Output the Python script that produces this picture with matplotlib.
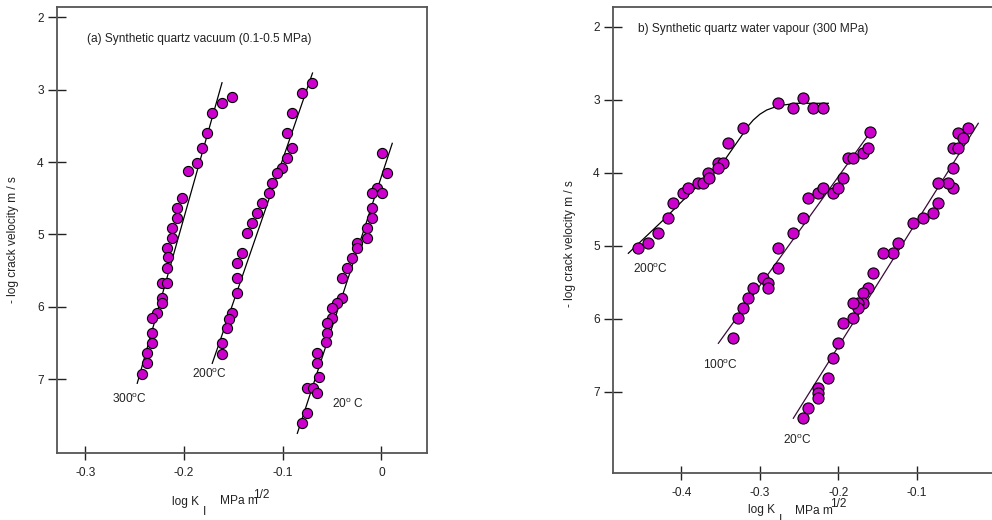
import matplotlib
matplotlib.use("Agg")
import matplotlib.pyplot as plt

plt.rcParams['font.family'] = ['Liberation Sans', 'DejaVu Sans']
plt.rcParams['mathtext.fontset'] = 'custom'
plt.rcParams['mathtext.rm'] = 'Liberation Sans'
plt.rcParams['mathtext.it'] = 'Liberation Sans'

# ---------------- data: panel (a) vacuum ----------------
a300_x = [-0.1511, -0.1612, -0.1714, -0.1764, -0.1815, -0.1866, -0.1957, -0.2021, -0.2071,
          -0.2068, -0.2122, -0.2122, -0.2170, -0.2160, -0.2170, -0.2226, -0.2176, -0.2223,
          -0.2223, -0.2274, -0.2328, -0.2325, -0.2325, -0.2372, -0.2372, -0.2426]
a300_y = [3.104, 3.179, 3.317, 3.594, 3.805, 4.013, 4.123, 4.492, 4.635,
          4.769, 4.907, 5.050, 5.188, 5.308, 5.465, 5.672, 5.672, 5.884,
          5.945, 6.091, 6.160, 6.368, 6.506, 6.644, 6.783, 6.926]
a300_fit_x = [-0.2474, -0.1615]
a300_fit_y = [7.059, 2.902]

a200_x = [-0.0700, -0.0802, -0.0903, -0.0954, -0.0903, -0.0954, -0.1004, -0.1055, -0.1106,
          -0.1139, -0.1207, -0.1258, -0.1311, -0.1359, -0.1410, -0.1460, -0.1460, -0.1460,
          -0.1511, -0.1547, -0.1562, -0.1612, -0.1612]
a200_y = [2.902, 3.040, 3.317, 3.594, 3.805, 3.943, 4.082, 4.155, 4.293,
          4.423, 4.570, 4.708, 4.846, 4.985, 5.257, 5.400, 5.607, 5.815,
          6.091, 6.174, 6.299, 6.506, 6.650]
a200_fit_x = [-0.1714, -0.0698]
a200_fit_y = [6.783, 2.768]

a20_x = [0.0009, 0.0060, -0.0042, -0.0092, 0.0009, -0.0092, -0.0092, -0.0143, -0.0143,
         -0.0244, -0.0244, -0.0298, -0.0346, -0.0396, -0.0396, -0.0447, -0.0498, -0.0498,
         -0.0548, -0.0548, -0.0558, -0.0650, -0.0650, -0.0635, -0.0751, -0.0696, -0.0650,
         -0.0751, -0.0802]
a20_y = [3.870, 4.147, 4.354, 4.423, 4.423, 4.635, 4.773, 4.911, 5.050,
         5.115, 5.188, 5.326, 5.465, 5.607, 5.884, 5.953, 6.022, 6.160,
         6.229, 6.368, 6.488, 6.644, 6.783, 6.972, 7.128, 7.128, 7.198,
         7.474, 7.612]
a20_fit_x = [-0.0852, 0.0110]
a20_fit_y = [7.751, 3.740]

a_xticks = [-0.3, -0.2, -0.1, 0.0]
a_xticklabels = ['-0.3', '-0.2', '-0.1', '0']

# ---------------- data: panel (b) water vapour ----------------
b200_x = [-0.4552, -0.4425, -0.4298, -0.4170, -0.4106, -0.3979, -0.3915, -0.3788, -0.3721,
          -0.3661, -0.3652, -0.3533, -0.3466, -0.3529, -0.3406, -0.3215, -0.2765, -0.2578,
          -0.2447, -0.2319, -0.2192]
b200_y = [5.037, 4.968, 4.831, 4.617, 4.416, 4.283, 4.211, 4.142, 4.142,
          4.005, 4.069, 3.864, 3.864, 3.932, 3.594, 3.389, 3.046, 3.115,
          2.974, 3.115, 3.115]
b200_fit_x = [-0.4676, -0.4230, -0.3848, -0.3508, -0.3211, -0.3150, -0.3084, -0.3000,
              -0.2913, -0.2800, -0.2702, -0.2531, -0.2128]
b200_fit_y = [5.105, 4.649, 4.238, 3.919, 3.461, 3.362, 3.279, 3.200,
              3.142, 3.098, 3.074, 3.050, 3.050]

b100_x = [-0.3338, -0.3275, -0.3211, -0.3147, -0.3084, -0.2956, -0.2893, -0.2893, -0.2765,
          -0.2765, -0.2574, -0.2447, -0.2383, -0.2256, -0.2192, -0.2065, -0.2001, -0.1937,
          -0.1874, -0.1810, -0.1683, -0.1619, -0.1597]
b100_y = [6.269, 5.995, 5.858, 5.722, 5.584, 5.448, 5.516, 5.584, 5.311,
          5.037, 4.831, 4.626, 4.352, 4.283, 4.215, 4.283, 4.215, 4.078,
          3.804, 3.804, 3.735, 3.667, 3.439]
b100_fit_x = [-0.3529, -0.1619]
b100_fit_y = [6.338, 3.485]

b20_x = [-0.0345, -0.0473, -0.0409, -0.0536, -0.0473, -0.0536, -0.0536, -0.0600, -0.0727,
         -0.0727, -0.0791, -0.0918, -0.1046, -0.1237, -0.1300, -0.1428, -0.1555, -0.1619,
         -0.1683, -0.1683, -0.1746, -0.1746, -0.1810, -0.1810, -0.1937, -0.2001, -0.2065,
         -0.2128, -0.2256, -0.2256, -0.2256, -0.2383, -0.2447]
b20_y = [3.393, 3.461, 3.530, 3.667, 3.667, 3.941, 4.215, 4.146, 4.146,
         4.420, 4.557, 4.626, 4.694, 4.968, 5.105, 5.105, 5.379, 5.584,
         5.653, 5.790, 5.790, 5.858, 5.790, 5.995, 6.064, 6.338, 6.543,
         6.817, 6.954, 7.023, 7.091, 7.228, 7.365]
b20_fit_x = [-0.2574, -0.0218]
b20_fit_y = [7.365, 3.324]

b_xticks = [-0.4, -0.3, -0.2, -0.1, 0.0]
b_xticklabels = ['-0.4', '-0.3', '-0.2', '-0.1', '0']

yticks = [2, 3, 4, 5, 6, 7]
yticklabels = ['2', '3', '4', '5', '6', '7']

# ---------------- style ----------------
W, H = 992, 520
MC = '#cc00cc'
TXT = '#222222'
SPINE = '#555555'
FS = 8.6

fig = plt.figure(figsize=(W / 100, H / 100), dpi=100)


def px_rect(l, t, r, b):
    return [l / W, 1 - b / H, (r - l) / W, (b - t) / H]


def style_axes(ax):
    for s in ax.spines.values():
        s.set_color(SPINE)
        s.set_linewidth(1.3)
    ax.tick_params(axis='y', direction='inout', length=13.5, width=1.0, color='#222222',
                   labelsize=FS, labelcolor=TXT, pad=2.5)
    ax.tick_params(axis='x', direction='inout', length=10.5, width=1.0, color='#222222',
                   labelsize=FS, labelcolor=TXT, pad=4.5)
    ax.set_yticks(yticks)
    ax.set_yticklabels(yticklabels)


def pts(ax, x, y, ms):
    ax.plot(x, y, 'o', ms=ms, mfc=MC, mec='black', mew=0.8, ls='none', zorder=3)


# ---------------- panel (a) ----------------
axa = fig.add_axes(px_rect(56.7, 7.3, 427.3, 453.3))
style_axes(axa)
axa.set_xlim(-0.329, 0.0465)
axa.set_ylim(8.027, 1.859)
axa.set_xticks(a_xticks)
axa.set_xticklabels(a_xticklabels)

for fx, fy in [(a300_fit_x, a300_fit_y), (a200_fit_x, a200_fit_y), (a20_fit_x, a20_fit_y)]:
    axa.plot(fx, fy, color='black', lw=0.9, zorder=2)
pts(axa, a300_x, a300_y, 7.3)
pts(axa, a200_x, a200_y, 7.3)
pts(axa, a20_x, a20_y, 7.3)

axa.text(-0.2983, 2.302, '(a) Synthetic quartz vacuum (0.1-0.5 MPa)', fontsize=FS,
         color=TXT, ha='left', va='center')
axa.text(-0.273, 7.276, '300$^{\\mathrm{o}}$C', fontsize=FS, color=TXT, ha='left', va='center')
axa.text(-0.192, 6.93, '200$^{\\mathrm{o}}$C', fontsize=FS, color=TXT, ha='left', va='center')
axa.text(-0.050, 7.345, '20$^{\\mathrm{o}}$ C', fontsize=FS, color=TXT, ha='left', va='center')

# ---------------- panel (b) ----------------
axb = fig.add_axes(px_rect(612.7, 7.3, 1004.8, 473.3))
style_axes(axb)
axb.set_xlim(-0.4875, 0.012)
axb.set_ylim(8.119, 1.735)
axb.set_xticks(b_xticks)
axb.set_xticklabels(b_xticklabels)

axb.plot(b200_fit_x, b200_fit_y, color='black', lw=0.9, zorder=2)
axb.plot(b100_fit_x, b100_fit_y, color='#3a0a3a', lw=0.9, zorder=2)
axb.plot(b20_fit_x, b20_fit_y, color='#3a0a3a', lw=0.9, zorder=2)
pts(axb, b200_x, b200_y, 8.0)
pts(axb, b100_x, b100_y, 8.0)
pts(axb, b20_x, b20_y, 8.0)

axb.text(-0.4556, 2.032, 'b) Synthetic quartz water vapour (300 MPa)', fontsize=FS,
         color=TXT, ha='left', va='center')
axb.text(-0.4617, 5.315, '200$^{\\mathrm{o}}$C', fontsize=FS, color=TXT, ha='left', va='center')
axb.text(-0.3724, 6.635, '100$^{\\mathrm{o}}$C', fontsize=FS, color=TXT, ha='left', va='center')
axb.text(-0.2705, 7.663, '20$^{\\mathrm{o}}$C', fontsize=FS, color=TXT, ha='left', va='center')


# ---------------- axis labels (figure pixel positions) ----------------
def ftext(x, y, s, **kw):
    fig.text(x / W, 1 - y / H, s, fontsize=kw.pop('fontsize', FS), color=TXT, **kw)


ylab = '- log crack velocity m / s'
ftext(13.5, 240, ylab, rotation=90, ha='center', va='center')
ftext(570, 244, ylab, rotation=90, ha='center', va='center')

# x label panel (a)
ftext(171.7, 501.5, 'log K', ha='left', va='center')
ftext(202.5, 512, 'I', ha='left', va='center')
ftext(220, 501.5, 'MPa m', ha='left', va='center')
ftext(253, 495.5, '1/2', ha='left', va='center')

# x label panel (b)
ftext(748.3, 510.5, 'log K', ha='left', va='center')
ftext(779, 520, 'I', ha='left', va='center')
ftext(795, 510.5, 'MPa m', ha='left', va='center')
ftext(830, 504, '1/2', ha='left', va='center')

fig.savefig('out.png', dpi=100)
